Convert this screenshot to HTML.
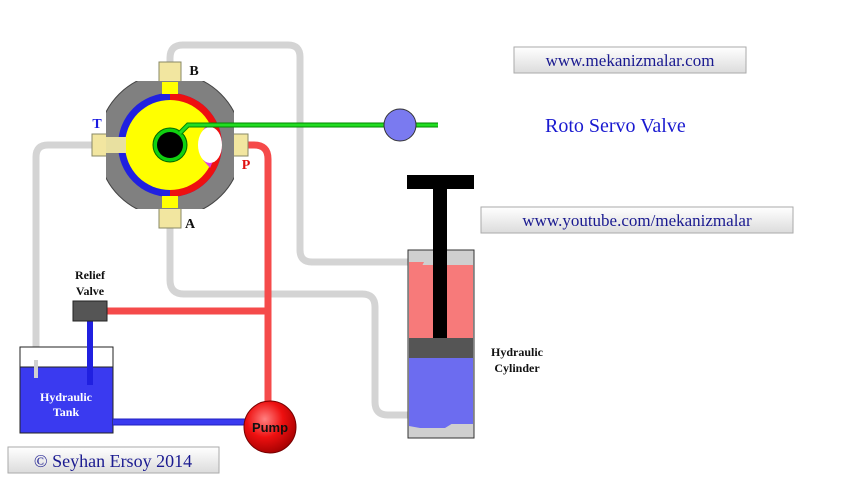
<!DOCTYPE html>
<html><head><meta charset="utf-8"><style>
body{margin:0;background:#fff;width:854px;height:480px;overflow:hidden}
svg{display:block}
.box{fill:url(#bg);stroke:#aaa;stroke-width:1}
.st{font-family:"Liberation Serif",serif;fill:#1a1a90}
.lb{font-family:"Liberation Serif",serif;font-weight:bold;font-size:12px;fill:#111;text-anchor:middle}
</style></head><body>
<svg width="854" height="480" viewBox="0 0 854 480" xmlns="http://www.w3.org/2000/svg">
<defs>
<linearGradient id="bg" x1="0" y1="0" x2="0" y2="1"><stop offset="0" stop-color="#ffffff"/><stop offset="1" stop-color="#dcdcdc"/></linearGradient>
<radialGradient id="pg" cx="0.4" cy="0.35" r="0.7"><stop offset="0" stop-color="#ff8080"/><stop offset="0.5" stop-color="#ee1010"/><stop offset="1" stop-color="#a00000"/></radialGradient>
<clipPath id="sq"><rect x="106" y="81" width="128" height="128"/></clipPath>
</defs>
<!-- gray pipes -->
<g fill="none" stroke="#d4d4d4" stroke-width="7">
<path d="M170 80 V58 Q170 45 183 45 H288 Q300 45 300 57 V250 Q300 262 312 262 H412"/>
<path d="M170 210 V280 Q170 294 184 294 H362 Q375 294 375 307 V402 Q375 415 388 415 H412"/>
<path d="M100 145 H48 Q36 145 36 157 V378"/>
</g>
<!-- red pipes -->
<g fill="none" stroke="#f54a4a" stroke-width="7">
<path d="M230 145 H254 Q268 145 268 159 V405"/>
<path d="M105 311 H268"/>
</g>
<!-- tank -->
<rect x="20" y="347" width="93" height="86" fill="#fff" stroke="#222" stroke-width="1"/>
<rect x="20" y="367" width="93" height="66" fill="#3a3af0" stroke="#222" stroke-width="1"/>
<rect x="34" y="360" width="4" height="18" fill="#d0d0d0"/>
<path d="M90 321 V385" stroke="#2020e0" stroke-width="6"/>
<path d="M113 422 H248" stroke="#2020c0" stroke-width="7"/>
<path d="M113 422 H248" stroke="#3a3af0" stroke-width="5"/>
<text class="lb" x="66" y="401" style="fill:#fff">Hydraulic</text>
<text class="lb" x="66" y="416" style="fill:#fff">Tank</text>
<rect x="73" y="301" width="34" height="20" fill="#555" stroke="#222"/>
<text class="lb" x="90" y="279">Relief</text>
<text class="lb" x="90" y="295">Valve</text>
<!-- pump -->
<circle cx="270" cy="427" r="26" fill="url(#pg)" stroke="#700" stroke-width="1"/>
<text x="270" y="432" text-anchor="middle" font-family="Liberation Sans,sans-serif" font-size="13" font-weight="bold" fill="#111">Pump</text>
<!-- valve -->
<g>
<rect x="159" y="62" width="22" height="24" fill="#f2e6a0" stroke="#886"/>
<rect x="159" y="204" width="22" height="24" fill="#f2e6a0" stroke="#886"/>
<rect x="92" y="134" width="24" height="22" fill="#f2e6a0" stroke="#886"/>
<rect x="224" y="134" width="24" height="22" fill="#f2e6a0" stroke="#886"/>
<circle cx="170" cy="145" r="72" fill="#808080" stroke="#444" clip-path="url(#sq)"/>
<circle cx="170" cy="145" r="52" fill="#2020e0"/>
<path d="M170 93 A52 52 0 0 1 170 197 Z" fill="#ee1010"/>
<circle cx="170" cy="145" r="45" fill="#ffff00"/>
<rect x="162" y="82" width="16" height="12" fill="#ffff00"/>
<rect x="162" y="196" width="16" height="12" fill="#ffff00"/>
<rect x="106" y="137" width="20" height="16" fill="#e8e0a0"/>
<path d="M210 122 A52 52 0 0 1 210 168 L203 160 A40 40 0 0 0 203 130 Z" fill="#e040e0"/>
<ellipse cx="210" cy="145" rx="12" ry="18" fill="#fff"/>
<circle cx="170" cy="145" r="17" fill="#10d010" stroke="#060" stroke-width="1"/>
<circle cx="170" cy="145" r="13" fill="#000"/>
</g>
<path d="M180 133 L188 125 H438" fill="none" stroke="#080" stroke-width="5"/>
<path d="M180 133 L188 125 H438" fill="none" stroke="#22dd22" stroke-width="3"/>
<circle cx="400" cy="125" r="16" fill="#7a7af0" stroke="#333"/>
<text class="lb" x="194" y="75" style="font-size:14px">B</text>
<text class="lb" x="190" y="228" style="font-size:14px">A</text>
<text class="lb" x="97" y="128" style="font-size:14px;fill:#1a1ae0">T</text>
<text class="lb" x="246" y="169" style="font-size:14px;fill:#e01010">P</text>
<!-- cylinder -->
<rect x="408" y="250" width="66" height="188" fill="#cfcfcf" stroke="#333"/>
<rect x="409" y="265" width="64" height="73" fill="#f77a7a"/>
<polygon points="409,262 424,262 420,270 409,270" fill="#f77a7a"/>
<rect x="409" y="338" width="64" height="20" fill="#555"/>
<rect x="409" y="358" width="64" height="66" fill="#6c6cf0"/>
<polygon points="409,420 458,420 445,428 420,428 409,426" fill="#6c6cf0"/>
<rect x="433" y="184" width="14" height="154" fill="#000"/>
<rect x="407" y="175" width="67" height="14" fill="#000"/>
<text class="lb" x="517" y="356">Hydraulic</text>
<text class="lb" x="517" y="372">Cylinder</text>
<!-- boxes -->
<rect class="box" x="514" y="47" width="232" height="26"/>
<text class="st" x="630" y="66" font-size="17" text-anchor="middle">www.mekanizmalar.com</text>
<text x="545" y="132" font-family="Liberation Serif,serif" font-size="20" fill="#1a1ad0">Roto Servo Valve</text>
<rect class="box" x="481" y="207" width="312" height="26"/>
<text class="st" x="637" y="226" font-size="17" text-anchor="middle">www.youtube.com/mekanizmalar</text>
<rect class="box" x="8" y="447" width="211" height="26"/>
<text class="st" x="113" y="467" font-size="18" text-anchor="middle">© Seyhan Ersoy 2014</text>
</svg>
</body></html>
